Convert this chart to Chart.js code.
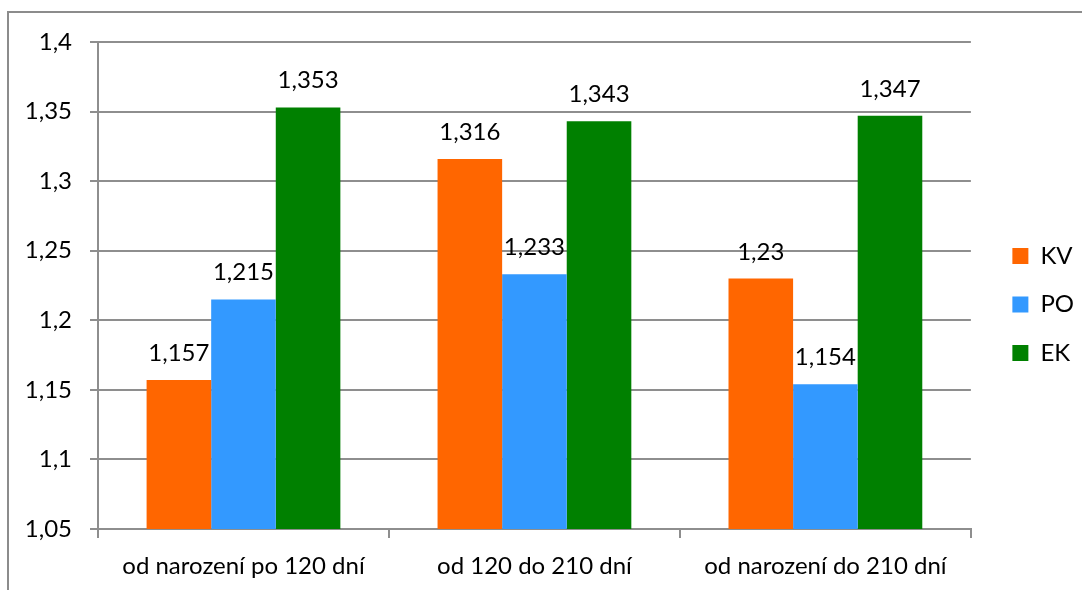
<!DOCTYPE html>
<html>
<head>
<meta charset="utf-8">
<script src="https://cdn.jsdelivr.net/npm/chart.js@4/dist/chart.umd.min.js"></script>
<style>
  html, body { margin: 0; padding: 0; background: #fff; overflow: hidden; }
  #wrap { position: relative; width: 1082px; height: 590px; }
  #frame {
    position: absolute; left: 7px; top: 11px; width: 2000px; height: 2000px;
    border-left: 2px solid #8c8c8c; border-top: 2px solid #8c8c8c;
    pointer-events: none;
  }
  canvas { position: absolute; left: 0; top: 0; }
</style>
</head>
<body>
<div id="wrap">
  <canvas id="c" width="1082" height="590"></canvas>
  <div id="frame"></div>
</div>
<script>
// Categories (age periods) and series values
const categories = ['od narození po 120 dní', 'od 120 do 210 dní', 'od narození do 210 dní'];
const seriesNames = ['KV', 'PO', 'EK'];
const valuesKV = [1.157, 1.316, 1.23];
const valuesPO = [1.215, 1.233, 1.154];
const valuesEK = [1.353, 1.343, 1.347];
const yTickValues = [1.05, 1.1, 1.15, 1.2, 1.25, 1.3, 1.35, 1.4];

const FONT = 'Lato';
const FS = 24;
const GRID = '#8e8e8e';

const fmt = v => String(Number(v.toFixed(3))).replace('.', ',');

// Value labels above each bar
const barLabels = {
  id: 'barLabels',
  afterDatasetsDraw(chart) {
    const ctx = chart.ctx;
    ctx.save();
    ctx.font = FS + 'px ' + FONT;
    ctx.fillStyle = '#000';
    ctx.textAlign = 'center';
    ctx.textBaseline = 'alphabetic';
    chart.data.datasets.forEach((ds, i) => {
      chart.getDatasetMeta(i).data.forEach((bar, j) => {
        ctx.fillText(fmt(ds.data[j]), bar.x, bar.y - 19);
      });
    });
    ctx.restore();
  }
};

// Nudge the legend: a small gap from the plot, slightly raised
const legendNudge = {
  id: 'legendNudge',
  afterLayout(chart) {
    const lg = chart.legend;
    if (lg) {
      lg.left += 17; lg.right += 17;
      lg.top -= 11.5; lg.bottom -= 11.5;
    }
  }
};

new Chart(document.getElementById('c'), {
  type: 'bar',
  data: {
    labels: categories,
    datasets: [
      { label: seriesNames[0], data: valuesKV, backgroundColor: '#ff6600' },
      { label: seriesNames[1], data: valuesPO, backgroundColor: '#3399ff' },
      { label: seriesNames[2], data: valuesEK, backgroundColor: '#008000' }
    ]
  },
  options: {
    responsive: false,
    animation: false,
    devicePixelRatio: 1,
    layout: { padding: { top: 42, left: 0, right: 15, bottom: 0 } },
    datasets: { bar: { categoryPercentage: 0.666, barPercentage: 1.0, borderWidth: 0 } },
    plugins: {
      legend: {
        position: 'right',
        labels: {
          boxWidth: 16, boxHeight: 16, padding: 24.5,
          color: '#000', font: { family: FONT, size: FS }
        }
      },
      tooltip: { enabled: false }
    },
    scales: {
      x: {
        grid: { offset: true, drawOnChartArea: false, drawTicks: true, tickLength: 9, color: GRID, lineWidth: 2 },
        border: { display: true, color: GRID, width: 2 },
        ticks: { color: '#000', font: { family: FONT, size: FS }, padding: 14, maxRotation: 0 },
        afterFit(scale) { scale.height = 61; }
      },
      y: {
        min: 1.05, max: 1.4,
        afterBuildTicks(scale) { scale.ticks = yTickValues.map(v => ({ value: v })); },
        grid: { color: GRID, lineWidth: 2, drawTicks: true, tickLength: 8 },
        border: { display: true, color: GRID, width: 2 },
        ticks: { color: '#000', font: { family: FONT, size: FS }, padding: 18, callback: v => fmt(v) },
        afterFit(scale) { scale.width = 98; }
      }
    }
  },
  plugins: [barLabels, legendNudge]
});
</script>
</body>
</html>
